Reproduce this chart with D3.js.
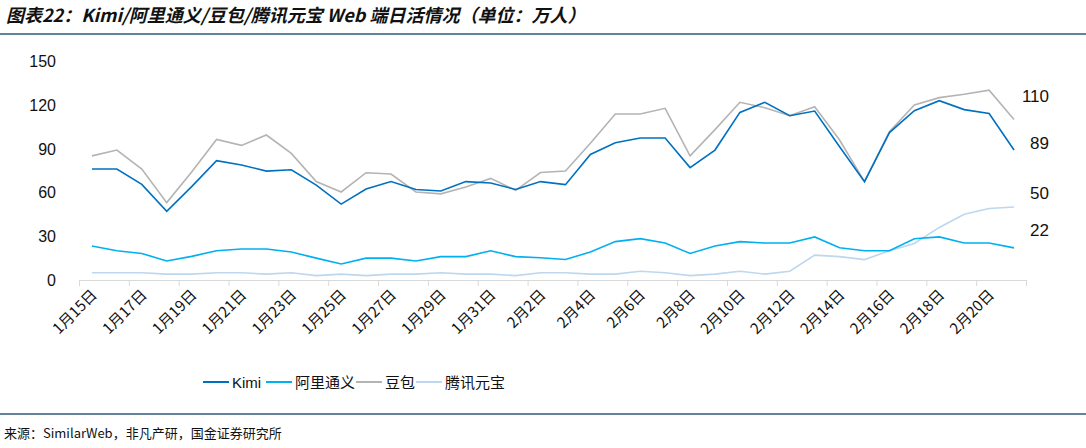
<!DOCTYPE html><html><head><meta charset="utf-8"><script src="https://cdn.jsdelivr.net/npm/d3@7"></script>
<style>body{margin:0;background:#fff}svg{font-family:"Liberation Sans",Arial,sans-serif}</style></head><body><svg id="c" width="1086" height="448"></svg><script>
const dates=[];for(let d=15;d<=31;d++)dates.push("1月"+d+"日");for(let d=1;d<=21;d++)dates.push("2月"+d+"日");
const kimi=[76,76,65.5,47,64,81.7,78.8,74.6,75.5,65,52,62.3,67.4,62,61,67.4,66.4,62,67.4,65.3,86,94,97.3,97.3,77,89,114.8,121.7,112.5,115.7,91.3,67.4,101,116,122.8,116.7,114,89];
const tongyi=[23.3,20,18.2,13,16.2,20,21.2,21.2,19.2,15,11,15,15,13,16,16,20,16,15.2,14,19.2,26.3,28.3,25.3,18.2,23.3,26.3,25.3,25.3,29.5,22.1,20,20,28.3,29.5,25.3,25.3,22];
const doubao=[85,89,76,53,74,96.3,92.2,99.3,86.7,67.4,60.3,73.5,72.6,60.3,59,63.7,69.6,61.4,73.6,74.7,93.6,113.7,113.7,117.6,85,103,121.7,118,112.5,118.7,95.9,67.4,101.5,119.9,124.9,127.2,130,110];
const yuanbao=[5,5,5,4,4,5,5,4,5,3,4,3,4,4,5,4,4,3,5,5,4,4,6,5,3,4,6,4,6,17,16,14,20,25,36,45,49,50];
const yTicks=[0,30,60,90,120,150];
const series=[{name:"Kimi",v:kimi,c:"#0070c0",w:1.6,lab:"89"},{name:"阿里通义",v:tongyi,c:"#00b0f0",w:1.6,lab:"22"},{name:"豆包",v:doubao,c:"#b4b4b4",w:1.6,lab:"110"},{name:"腾讯元宝",v:yuanbao,c:"#bdd7ee",w:1.6,lab:"50"}];
const svg=d3.select("#c");
const x=d3.scaleBand().domain(dates).range([79.5,1026.5]);
const y=d3.scaleLinear().domain([0,150]).range([280,61]);
const cjk='"Noto Sans CJK SC",sans-serif';
svg.append("text").attr("x",6).attr("y",22).attr("font-size",18).attr("font-weight","bold").attr("font-style","italic").attr("font-family",cjk).attr("fill","#111").text("图表22：Kimi/阿里通义/豆包/腾讯元宝 Web 端日活情况（单位：万人）");
svg.append("line").attr("x1",0).attr("x2",1086).attr("y1",34).attr("y2",34).attr("stroke","#2f5a78").attr("stroke-width",1.5);
svg.append("line").attr("x1",0).attr("x2",1086).attr("y1",414).attr("y2",414).attr("stroke","#2f5a78").attr("stroke-width",1.5);
svg.append("text").attr("x",4).attr("y",438).attr("font-size",13).attr("font-family",cjk).attr("fill","#111").text("来源：SimilarWeb，非凡产研，国金证券研究所");
svg.selectAll(".yt").data(yTicks).enter().append("text").attr("x",56).attr("y",d=>y(d)+6).attr("text-anchor","end").attr("font-size",16).attr("fill","#111").text(d=>d);
svg.append("line").attr("x1",79.5).attr("x2",1026.5).attr("y1",280.5).attr("y2",280.5).attr("stroke","#d9d9d9");
const bounds=d3.range(0,39,2).map(i=>79.5+i*x.step());
svg.selectAll(".tk").data(bounds).enter().append("line").attr("x1",d=>d).attr("x2",d=>d).attr("y1",280).attr("y2",286).attr("stroke","#d9d9d9");
svg.selectAll(".xl").data(dates.filter((d,i)=>i%2==0)).enter().append("text").attr("font-size",15).attr("font-family",cjk).attr("fill","#111").attr("text-anchor","end")
 .attr("transform",d=>`translate(${x(d)+x.bandwidth()/2+6},${296}) rotate(-45)`).text(d=>d);
const line=v=>d3.line().x((d,i)=>x(dates[i])+x.bandwidth()/2).y(d=>y(d))(v);
[series[3],series[1],series[2],series[0]].forEach(s=>{
 svg.append("path").attr("d",line(s.v)).attr("fill","none").attr("stroke",s.c).attr("stroke-width",s.w);
});
const lx=x(dates[37])+x.bandwidth()/2;
const labY={"110":102,"89":149,"50":199,"22":236};
series.forEach(s=>svg.append("text").attr("x",lx+35).attr("y",labY[s.lab]).attr("text-anchor","end").attr("font-size",17).attr("fill","#111").text(s.lab));
const lg=[[203,"Kimi"],[266,"阿里通义"],[356,"豆包"],[416,"腾讯元宝"]];
lg.forEach((p,i)=>{const s=series[i];
 svg.append("line").attr("x1",p[0]).attr("x2",p[0]+26).attr("y1",382).attr("y2",382).attr("stroke",s.c).attr("stroke-width",2);
 svg.append("text").attr("x",p[0]+29).attr("y",388).attr("font-size",15).attr("font-family",i==0?null:cjk).attr("fill","#111").text(s.name);});
</script></body></html>
